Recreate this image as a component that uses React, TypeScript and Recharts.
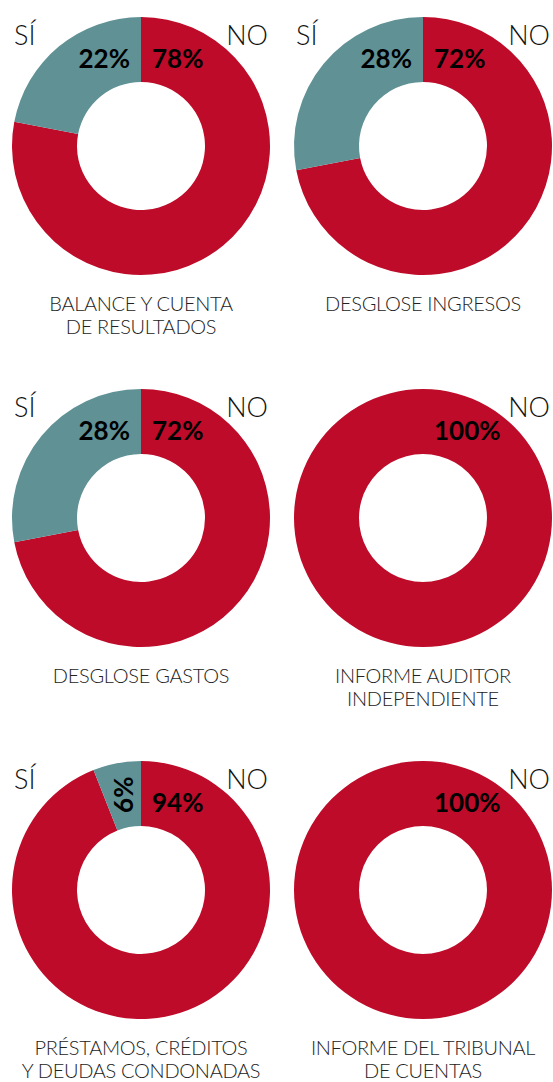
import React from "react";
import { PieChart, Pie, Cell } from "recharts";

const titles: string[][] = [
  ["BALANCE Y CUENTA", "DE RESULTADOS"],
  ["DESGLOSE INGRESOS"],
  ["DESGLOSE GASTOS"],
  ["INFORME AUDITOR", "INDEPENDIENTE"],
  ["PRÉSTAMOS, CRÉDITOS", "Y DEUDAS CONDONADAS"],
  ["INFORME DEL TRIBUNAL", "DE CUENTAS"],
];
const noValues = [78, 72, 72, 100, 94, 100];
const siValues = [22, 28, 28, 0, 6, 0];
const answerNames = ["NO", "SÍ"];
const answerColors = ["#BD0B29", "#5F9195"];

const W = 553;
const H = 1082;
const colX = [141, 423];
const rowY = [146, 518, 890];
const OUTER = 129;
const INNER = 64;
const RAD = Math.PI / 180;

const FONT_LIGHT = "Lato, 'Open Sans', sans-serif";
const FONT_BOLD = "Lato, 'Open Sans', sans-serif";

const PctLabel = (props: any) => {
  const { cx, cy, midAngle, value, name } = props;
  if (!value) return null;
  const text = `${value}%`;
  const common = {
    fontFamily: FONT_BOLD,
    fontWeight: 700,
    fontSize: 26,
    fill: "#000",
  };
  if (name === "NO") {
    return (
      <text x={cx + 11} y={cy - 78} textAnchor="start" {...common}>
        {text}
      </text>
    );
  }
  if (value < 10) {
    const r = 97;
    const x = cx + r * Math.cos(midAngle * RAD);
    const y = cy - r * Math.sin(midAngle * RAD);
    return (
      <text
        x={x}
        y={y}
        textAnchor="middle"
        dominantBaseline="central"
        transform={`rotate(-90 ${x} ${y})`}
        {...common}
      >
        {text}
      </text>
    );
  }
  return (
    <text x={cx - 11} y={cy - 78} textAnchor="end" {...common}>
      {text}
    </text>
  );
};

export default function App() {
  const charts = titles.map((t, i) => ({
    title: t,
    cx: colX[i % 2],
    cy: rowY[Math.floor(i / 2)],
    data: [
      { name: answerNames[0], value: noValues[i] },
      { name: answerNames[1], value: siValues[i] },
    ],
  }));
  return (
    <div style={{ position: "absolute", left: 0, top: 0, width: W, height: H, background: "#fff" }}>
      <PieChart width={W} height={H} margin={{ top: 0, right: 0, bottom: 0, left: 0 }}>
        {charts.map((c, i) => (
          <Pie
            key={i}
            data={c.data}
            dataKey="value"
            nameKey="name"
            cx={c.cx}
            cy={c.cy}
            innerRadius={INNER}
            outerRadius={OUTER}
            startAngle={90}
            endAngle={-270}
            stroke="none"
            isAnimationActive={false}
            labelLine={false}
            label={PctLabel}
          >
            {c.data.map((d, j) => (
              <Cell key={j} fill={answerColors[j]} />
            ))}
          </Pie>
        ))}
      </PieChart>
      <svg width={W} height={H} style={{ position: "absolute", left: 0, top: 0, pointerEvents: "none" }}>
        {charts.map((c, i) => (
          <g key={i}>
            {siValues[i] > 0 && (
              <text x={c.cx - 127} y={c.cy - 101} fontFamily={FONT_LIGHT} fontWeight={300} fontSize={27} fill="#111">
                SÍ
              </text>
            )}
            <text x={c.cx + 127} y={c.cy - 101} textAnchor="end" fontFamily={FONT_LIGHT} fontWeight={300} fontSize={27} fill="#111">
              NO
            </text>
            {c.title.map((line, k) => (
              <text
                key={k}
                x={c.cx}
                y={c.cy + 165 + k * 23}
                textAnchor="middle"
                fontFamily={FONT_LIGHT}
                fontWeight={300}
                fontSize={20}
                letterSpacing={-0.3}
                fill="#222"
              >
                {line}
              </text>
            ))}
          </g>
        ))}
      </svg>
    </div>
  );
}
